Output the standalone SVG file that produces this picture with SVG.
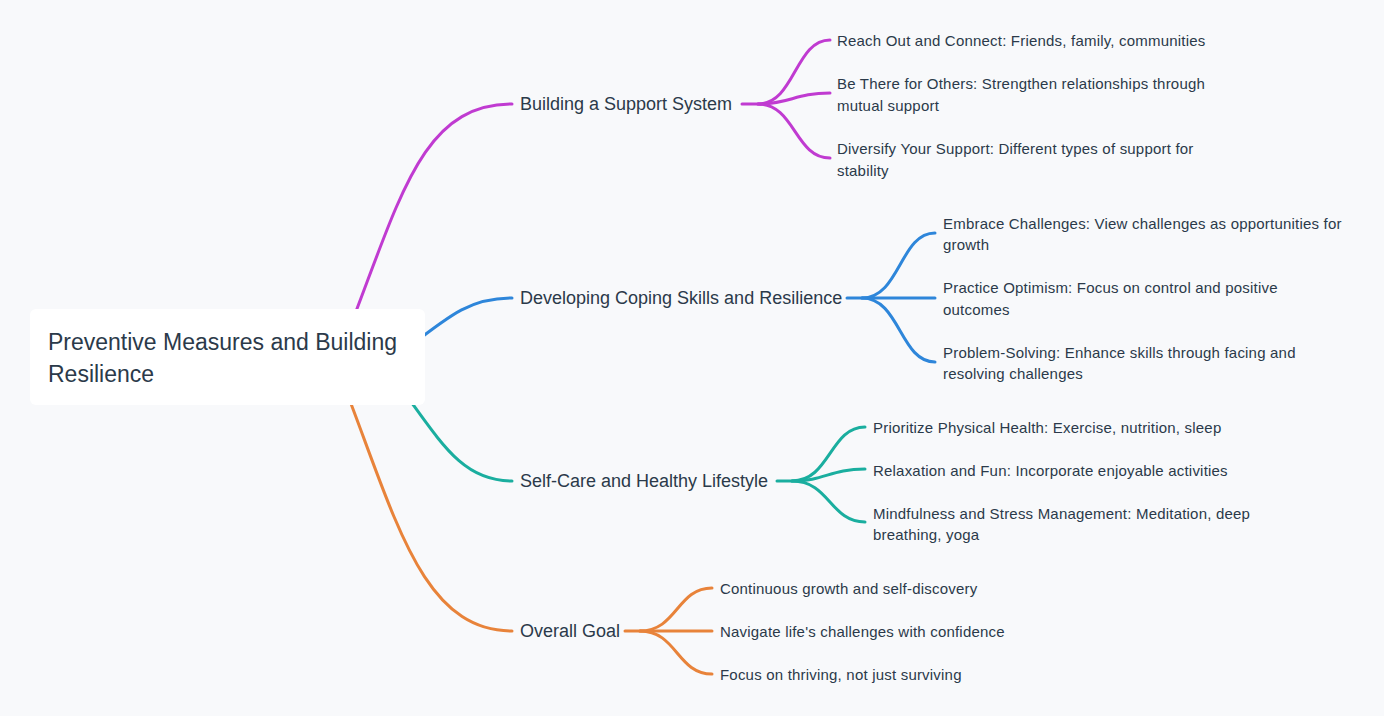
<svg xmlns="http://www.w3.org/2000/svg" width="1384" height="716" viewBox="0 0 1384 716">
<style>
.bg{fill:#F8F9FB}
.root{fill:#FFFFFF}
text{font-family:"Liberation Sans",Arial,sans-serif;fill:#2B3A4A}
.t0{font-size:23px}
.t1{font-size:18px}
.t2{font-size:15px;letter-spacing:0.2px}
.c{fill:none;stroke-width:3;stroke-linecap:round}
.p{stroke:#C03BD1}.b{stroke:#2E86DA}.g{stroke:#1AAE9F}.o{stroke:#E8833A}
</style>
<rect class="bg" x="0" y="0" width="1384" height="716"/>
<g id="connectors">
<path class="c p" d="M345 340 C400 200, 420 104, 512 104"/>
<path class="c b" d="M405 350 C450 315, 470 298, 512 298"/>
<path class="c g" d="M395 380 C440 440, 460 481, 512 481"/>
<path class="c o" d="M340 375 C395 515, 420 631, 512 631"/>
<path class="c p" d="M742 104 L758 104 C795 104, 795 40, 830 40"/>
<path class="c p" d="M758 104 C790 104, 795 93, 830 93"/>
<path class="c p" d="M758 104 C795 104, 795 158, 830 158"/>
<path class="c b" d="M847 298 L862 298 C900 298, 900 233, 935 233"/>
<path class="c b" d="M862 298 L935 298"/>
<path class="c b" d="M862 298 C900 298, 900 362, 935 362"/>
<path class="c g" d="M777 481 L792 481 C830 481, 830 427, 865 427"/>
<path class="c g" d="M792 481 C825 481, 830 469, 865 469"/>
<path class="c g" d="M792 481 C830 481, 830 522, 865 522"/>
<path class="c o" d="M625 631 L640 631 C677 631, 677 588, 712 588"/>
<path class="c o" d="M640 631 L712 631"/>
<path class="c o" d="M640 631 C677 631, 677 674, 712 674"/>
</g>
<g id="root">
<rect class="root" x="30" y="309" width="395" height="96" rx="6"/>
<text class="t0" x="48" y="350">Preventive Measures and Building</text>
<text class="t0" x="48" y="382">Resilience</text>
</g>
<g id="n1"><text class="t1" x="520" y="110">Building a Support System</text></g>
<g id="n1a"><text class="t2" x="837" y="46">Reach Out and Connect: Friends, family, communities</text></g>
<g id="n1b"><text class="t2" x="837" y="89">Be There for Others: Strengthen relationships through</text><text class="t2" x="837" y="111">mutual support</text></g>
<g id="n1c"><text class="t2" x="837" y="154">Diversify Your Support: Different types of support for</text><text class="t2" x="837" y="176">stability</text></g>
<g id="n2"><text class="t1" x="520" y="304">Developing Coping Skills and Resilience</text></g>
<g id="n2a"><text class="t2" x="943" y="229">Embrace Challenges: View challenges as opportunities for</text><text class="t2" x="943" y="250">growth</text></g>
<g id="n2b"><text class="t2" x="943" y="293">Practice Optimism: Focus on control and positive</text><text class="t2" x="943" y="315">outcomes</text></g>
<g id="n2c"><text class="t2" x="943" y="358">Problem-Solving: Enhance skills through facing and</text><text class="t2" x="943" y="379">resolving challenges</text></g>
<g id="n3"><text class="t1" x="520" y="487">Self-Care and Healthy Lifestyle</text></g>
<g id="n3a"><text class="t2" x="873" y="433">Prioritize Physical Health: Exercise, nutrition, sleep</text></g>
<g id="n3b"><text class="t2" x="873" y="476">Relaxation and Fun: Incorporate enjoyable activities</text></g>
<g id="n3c"><text class="t2" x="873" y="519">Mindfulness and Stress Management: Meditation, deep</text><text class="t2" x="873" y="540">breathing, yoga</text></g>
<g id="n4"><text class="t1" x="520" y="637">Overall Goal</text></g>
<g id="n4a"><text class="t2" x="720" y="594">Continuous growth and self-discovery</text></g>
<g id="n4b"><text class="t2" x="720" y="637">Navigate life's challenges with confidence</text></g>
<g id="n4c"><text class="t2" x="720" y="680">Focus on thriving, not just surviving</text></g>
</svg>
